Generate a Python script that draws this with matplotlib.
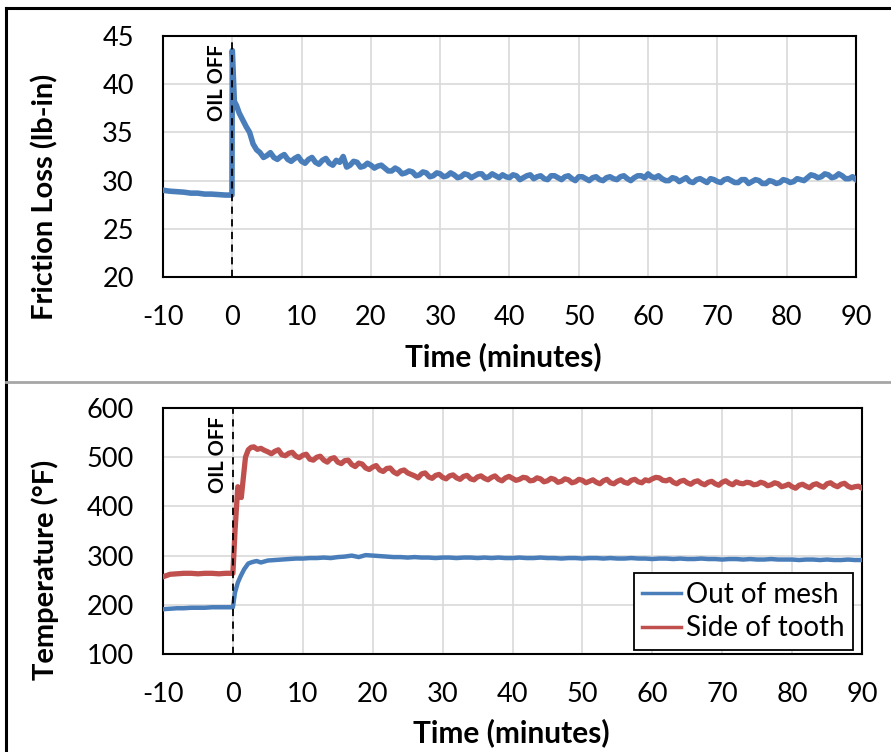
import numpy as np
import matplotlib
matplotlib.use("Agg")
import matplotlib.pyplot as plt
from matplotlib.lines import Line2D

plt.rcParams["axes.unicode_minus"] = False

# ---------------- data ----------------
x_ticks = [-10, 0, 10, 20, 30, 40, 50, 60, 70, 80, 90]
fric_ticks = [20, 25, 30, 35, 40, 45]
temp_ticks = [100, 200, 300, 400, 500, 600]

# Friction loss (lb-in)
fric_time_pre = [-10, -9, -8, -7, -6, -5, -4, -3, -2, -1, -0.05]
fric_pre = [29.0, 28.9, 28.85, 28.8, 28.7, 28.7, 28.6, 28.6, 28.55, 28.5, 28.5]
fric_time_jump = [0.0, 0.3, 0.6, 1.0, 1.5, 2.0, 2.5, 3.0, 3.5, 4.0, 4.5]
fric_jump = [43.5, 38.2, 37.8, 37.0, 36.3, 35.6, 35.0, 33.8, 33.2, 32.9, 32.4]
fric_time_main = list(range(5, 91))
fric_main = [32.6, 32.4, 32.5, 32.2, 32.3, 32.0, 32.2, 31.9, 32.1, 31.8,
             32.1, 32.5, 31.6, 31.9, 31.5, 31.6, 31.5, 31.3, 31.0, 31.1,
             30.8, 30.9, 30.6, 30.8, 30.5, 30.7, 30.5, 30.6, 30.4, 30.6,
             30.5, 30.7, 30.4, 30.5, 30.6, 30.3, 30.5, 30.3, 30.6, 30.4,
             30.2, 30.5, 30.3, 30.4, 30.2, 30.4, 30.2, 30.3, 30.1, 30.3,
             30.2, 30.4, 30.2, 30.3, 30.5, 30.7, 30.3, 30.2, 30.0, 30.2,
             30.1, 29.9, 30.1, 30.0, 30.2, 29.9, 30.1, 30.0, 29.8, 30.1,
             29.9, 30.0, 29.7, 29.9, 29.8, 30.0, 29.9, 30.1, 30.3, 30.5,
             30.4, 30.6, 30.4, 30.5, 30.2, 30.1]
fric_time_half = [t + 0.5 for t in range(5, 90)]
fric_half = [32.9, 32.2, 32.7, 32.0, 32.5, 31.8, 32.4, 31.7, 32.3, 31.6,
             31.9, 31.4, 32.0, 31.4, 31.8, 31.3, 31.6, 31.0, 31.3, 30.7,
             31.0, 30.5, 30.9, 30.4, 30.8, 30.4, 30.8, 30.3, 30.7, 30.3,
             30.7, 30.3, 30.7, 30.3, 30.4, 30.6, 30.1, 30.5, 30.2, 30.5,
             30.1, 30.5, 30.1, 30.5, 30.0, 30.4, 30.0, 30.4, 30.0, 30.4,
             30.1, 30.5, 30.0, 30.5, 30.3, 30.4, 30.5, 30.0, 30.3, 29.9,
             30.3, 29.8, 30.2, 29.8, 30.1, 29.8, 30.2, 29.8, 30.1, 29.7,
             30.1, 29.7, 30.0, 29.7, 30.1, 29.8, 30.2, 30.0, 30.6, 30.3,
             30.7, 30.3, 30.7, 30.2, 30.4]

# Temperature (F) - side of tooth
red_time_pre = [-10, -9, -8, -7, -6, -5, -4, -3, -2, -1, 0.0]
red_pre = [257, 262, 263, 264, 264, 263, 264, 264, 263, 264, 264]
red_time_jump = [0.3, 0.7, 1.0, 1.2, 1.5, 1.8, 2.2, 2.6, 3.0, 3.5, 4.0, 4.5]
red_jump = [350, 440, 435, 418, 460, 500, 515, 520, 521, 516, 518, 514]
red_time_main = list(range(5, 91))
red_main = [511, 512, 505, 508, 502, 504, 496, 500, 494, 497,
            490, 493, 485, 488, 478, 480, 474, 477, 470, 472,
            468, 462, 466, 460, 463, 459, 462, 458, 461, 456,
            460, 457, 459, 455, 458, 457, 455, 458, 453, 456,
            452, 455, 451, 454, 450, 453, 451, 449, 452, 448,
            451, 449, 453, 450, 454, 456, 458, 452, 449, 451,
            448, 450, 447, 449, 446, 449, 447, 450, 446, 448,
            445, 447, 444, 446, 442, 440, 443, 441, 444, 442,
            446, 443, 445, 441, 440, 437]
red_time_half = [t + 0.5 for t in range(5, 90)]
red_half = [507, 515, 503, 510, 499, 506, 494, 502, 490, 499,
            487, 494, 481, 486, 475, 483, 471, 478, 466, 474,
            465, 458, 468, 457, 465, 456, 464, 455, 463, 454,
            462, 454, 462, 452, 461, 453, 459, 452, 458, 450,
            457, 449, 456, 448, 455, 448, 454, 446, 455, 446,
            454, 447, 455, 448, 452, 459, 453, 455, 446, 453,
            445, 452, 444, 451, 443, 452, 444, 447, 449, 444,
            449, 442, 448, 440, 445, 437, 445, 438, 446, 439,
            448, 440, 447, 438, 441]

# Temperature (F) - out of mesh
blue_time_pre = [-10, -9, -8, -7, -6, -5, -4, -3, -2, -1, 0.0]
blue_pre = [191, 192, 193, 193, 194, 194, 194, 195, 195, 195, 195]
blue_time_jump = [0.3, 0.7, 1.1, 1.6, 2.2, 2.8, 3.4, 4.0]
blue_jump = [225, 245, 258, 272, 284, 287, 289, 286]
blue_time_main = list(range(5, 91))
blue_main = [290, 291, 292, 293, 294, 294, 295, 295, 296, 295,
             297, 298, 300, 297, 301, 300, 299, 298, 297, 297,
             296, 297, 296, 296, 295, 296, 296, 295, 296, 296,
             295, 296, 295, 296, 295, 295, 296, 295, 295, 296,
             295, 295, 294, 295, 295, 294, 295, 295, 294, 295,
             294, 294, 295, 294, 294, 293, 294, 294, 293, 294,
             293, 293, 294, 293, 293, 292, 293, 293, 292, 293,
             292, 292, 293, 292, 292, 292, 291, 292, 292, 291,
             292, 291, 291, 292, 291, 291]


def merge(*pairs):
    t = []
    v = []
    for tt, vv in pairs:
        n = min(len(tt), len(vv))
        t += list(tt[:n])
        v += list(vv[:n])
    order = np.argsort(np.array(t, dtype=float), kind="stable")
    return np.array(t, dtype=float)[order], np.array(v, dtype=float)[order]


fric_t, fric_v = merge((fric_time_pre, fric_pre), (fric_time_jump, fric_jump),
                       (fric_time_main, fric_main), (fric_time_half, fric_half))
red_t, red_v = merge((red_time_pre, red_pre), (red_time_jump, red_jump),
                     (red_time_main, red_main), (red_time_half, red_half))
blue_t, blue_v = merge((blue_time_pre, blue_pre), (blue_time_jump, blue_jump),
                       (blue_time_main, blue_main))

BLUE = "#4a7ebb"
RED = "#c0504d"
GRID = "#d9d9d9"
FONT = "Lato"

W, H = 891, 752
fig = plt.figure(figsize=(W / 100, H / 100), dpi=100)


def fx(px):
    return px / W


def fy(py):
    return 1 - py / H


ax1 = fig.add_axes([fx(163), fy(277), fx(856) - fx(163), fy(36) - fy(277)])
ax2 = fig.add_axes([fx(163), fy(654), fx(862) - fx(163), fy(408) - fy(654)])


def style(ax, yticks):
    ax.set_xlim(-10, 90)
    ax.set_xticks(x_ticks)
    ax.set_yticks(yticks)
    ax.set_ylim(yticks[0], yticks[-1])
    ax.grid(True, color=GRID, linewidth=1.2)
    ax.set_axisbelow(True)
    for s in ax.spines.values():
        s.set_color("black")
        s.set_linewidth(1.5)
    ax.tick_params(length=0, labelsize=19.5)
    ax.tick_params(axis="x", pad=20)
    ax.tick_params(axis="y", pad=21)
    for lab in ax.get_xticklabels() + ax.get_yticklabels():
        lab.set_fontfamily(FONT)
    ax.axvline(0, color="black", linestyle=(0, (4, 3)), linewidth=1.3, zorder=4)
    ax.annotate("OIL OFF", xy=(0, 1), xycoords=("data", "axes fraction"),
                xytext=(-3.5, -6), textcoords="offset points",
                rotation=90, ha="right", va="top", fontsize=14.5,
                fontweight="bold", fontfamily=FONT)


style(ax1, fric_ticks)
ax1.plot(fric_t, fric_v, color=BLUE, linewidth=4, solid_joinstyle="round", zorder=3)
ax1.set_xlim(-10, 90)

style(ax2, temp_ticks)
ax2.plot(blue_t, blue_v, color=BLUE, linewidth=3.2, label="Out of mesh", zorder=3)
ax2.plot(red_t, red_v, color=RED, linewidth=3.8, label="Side of tooth", zorder=3)
ax2.set_xlim(-10, 90)

leg = ax2.legend(loc="lower right", bbox_to_anchor=(0.9935, 0.0), frameon=True,
                 fancybox=False, edgecolor="black", framealpha=1,
                 prop={"family": FONT, "size": 20}, handlelength=1.4,
                 handletextpad=0.2, borderpad=0.3, labelspacing=0.28,
                 borderaxespad=0.15)
leg.get_frame().set_linewidth(1.3)
for h in leg.get_lines():
    h.set_linewidth(2.5)

# axis labels
fig.text(fx(45), fy(197), "Friction Loss (lb-in)", rotation=90, ha="center",
         va="center", fontsize=21, fontweight="bold", fontfamily=FONT)
fig.text(fx(503), fy(357), "Time (minutes)", ha="center", va="center",
         fontsize=21.5, fontweight="bold", fontfamily=FONT)
fig.text(fx(45), fy(570), "Temperature (°F)", rotation=90, ha="center",
         va="center", fontsize=21, fontweight="bold", fontfamily=FONT)
fig.text(fx(511), fy(733), "Time (minutes)", ha="center", va="center",
         fontsize=21.5, fontweight="bold", fontfamily=FONT)

# outer frame
fig.add_artist(Line2D([fx(6), fx(6)], [fy(8), 0], color="black", linewidth=2.2))
fig.add_artist(Line2D([fx(6), 1], [fy(8), fy(8)], color="black", linewidth=2.2))
fig.add_artist(Line2D([fx(6), 1], [fy(382), fy(382)], color="#a6a6a6", linewidth=2))

fig.savefig("out.png", dpi=100)
